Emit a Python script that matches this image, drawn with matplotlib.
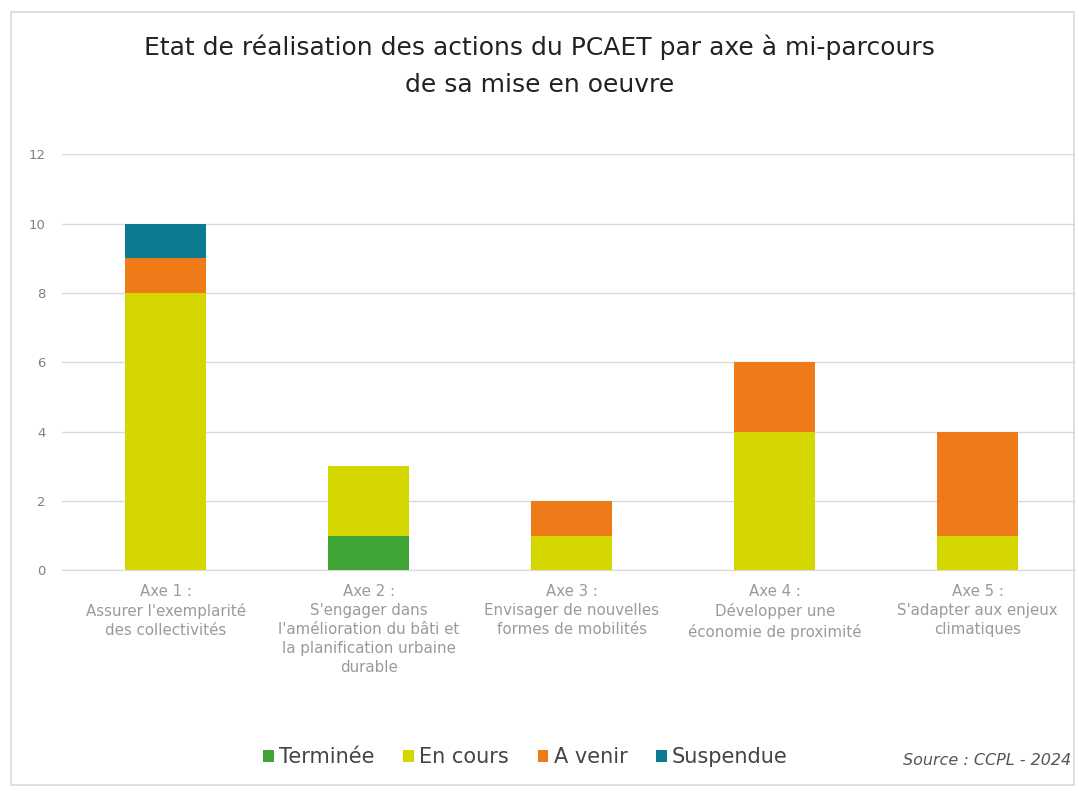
import matplotlib.pyplot as plt
import numpy as np
from matplotlib.patches import Rectangle

# data
axes_labels = ["Axe 1 :\nAssurer l'exemplarité\ndes collectivités",
               "Axe 2 :\nS'engager dans\nl'amélioration du bâti et\nla planification urbaine\ndurable",
               "Axe 3 :\nEnvisager de nouvelles\nformes de mobilités",
               "Axe 4 :\nDévelopper une\néconomie de proximité",
               "Axe 5 :\nS'adapter aux enjeux\nclimatiques"]
terminee = [0, 1, 0, 0, 0]
en_cours = [8, 2, 1, 4, 1]
a_venir = [1, 0, 1, 2, 3]
suspendue = [1, 0, 0, 0, 0]

series = [("Terminée", terminee, "#3fa535"),
          ("En cours", en_cours, "#d4d700"),
          ("A venir", a_venir, "#ee7a18"),
          ("Suspendue", suspendue, "#0a7b90")]

fig = plt.figure(figsize=(10.79, 7.91), dpi=100)
fig.patches.append(Rectangle((0.010, 0.008), 0.985, 0.977, transform=fig.transFigure,
                             fill=False, edgecolor="#d9d9d9", linewidth=1.2))

ax = fig.add_axes([0.0575, 0.279, 0.939, 0.526])
x = np.arange(len(axes_labels))
bottom = np.zeros(len(x))
for name, vals, col in series:
    ax.bar(x, vals, 0.40, bottom=bottom, color=col, label=name, zorder=3)
    bottom += np.array(vals)

ax.set_xlim(-0.51, 4.48)
ax.set_ylim(0, 12)
ax.set_yticks(range(0, 13, 2))
ax.yaxis.grid(True, color="#d9d9d9", linewidth=1.0, zorder=0)
for s in ax.spines.values():
    s.set_visible(False)
ax.spines["bottom"].set_visible(True)
ax.spines["bottom"].set_color("#d9d9d9")
ax.spines["bottom"].set_zorder(0)
ax.tick_params(axis="both", length=0)
ax.tick_params(axis="y", labelsize=9.5, labelcolor="#808080", pad=12)
ax.set_xticks(x)
ax.set_xticklabels(axes_labels, fontsize=10.8, color="#9a9a9a", linespacing=1.33)
ax.tick_params(axis="x", pad=10)

fig.text(0.5, 0.94, "Etat de réalisation des actions du PCAET par axe à mi-parcours",
         ha="center", va="center", fontsize=18, color="#222222")
fig.text(0.5, 0.893, "de sa mise en oeuvre",
         ha="center", va="center", fontsize=18, color="#222222")

leg = fig.legend(loc="center", bbox_to_anchor=(0.487, 0.043), ncol=4, frameon=False,
                 fontsize=15, handlelength=0.5, handleheight=0.5, handletextpad=0.25,
                 columnspacing=1.4, labelcolor="#444444")

fig.text(0.993, 0.038, "Source : CCPL - 2024", ha="right", va="center",
         fontsize=11.5, style="italic", color="#555555")

fig.savefig("out.png", dpi=100)
